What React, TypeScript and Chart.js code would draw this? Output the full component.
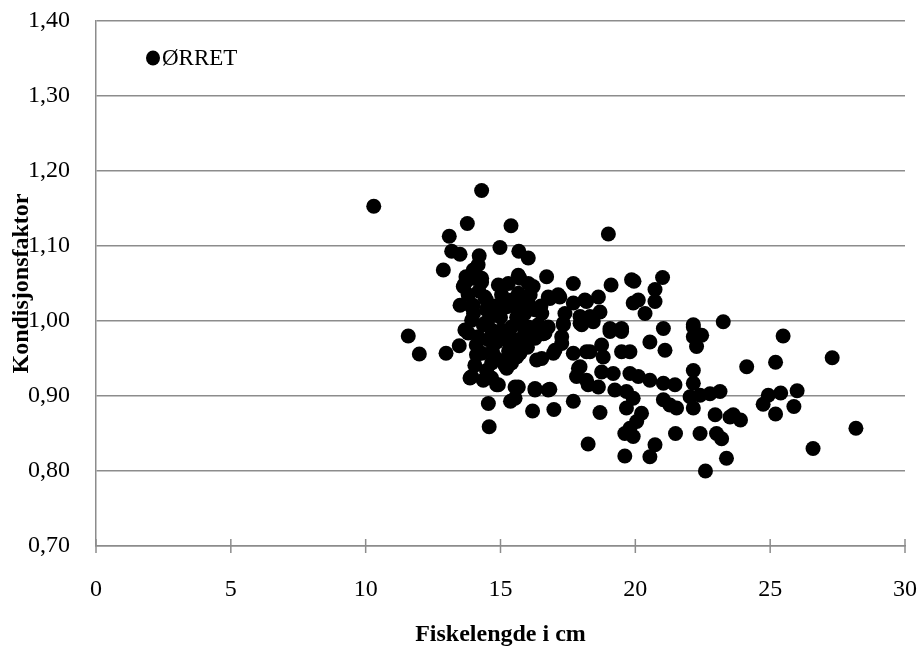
import React, { useEffect, useRef } from "react";
import { Chart, registerables } from "chart.js";

Chart.register(...registerables);

const seriesLabel = "ØRRET";
const xTitle = "Fiskelengde i cm";
const yTitle = "Kondisjonsfaktor";

const xMin = 0;
const xMax = 30;
const xStep = 5;
const yMin = 0.7;
const yMax = 1.4;
const yStep = 0.1;

const fishLength = [
  10.3, 14.3, 13.77, 15.39, 13.1, 14.98, 13.19, 13.5, 14.21, 15.68, 16.03, 12.88, 14.17, 13.99, 13.72, 13.68,
  13.99, 14.3, 14.3, 13.62, 14.92, 15.29, 15.66, 15.72, 16.03, 16.21, 16.71, 17.7, 19.1, 19.86, 19.95, 21.01,
  20.73, 20.73, 20.36, 19.92, 20.11, 19.0, 13.5, 13.93, 14.42, 14.55, 15.04, 15.23, 15.54, 15.66, 15.78, 16.03,
  16.77, 17.14, 17.7, 18.13, 18.63, 18.19, 16.28, 16.53, 17.39, 17.95, 18.69, 14.48, 13.93, 14.42, 14.67, 13.68,
  13.8, 15.04, 15.41, 15.78, 16.03, 16.4, 16.77, 15.91, 16.28, 17.33, 18.01, 18.44, 19.06, 19.49, 19.06, 19.49,
  21.04, 22.15, 22.15, 23.26, 22.15, 22.46, 22.27, 20.54, 21.1, 11.58, 11.99, 12.98, 13.47, 14.17, 14.55, 14.92,
  15.41, 15.84, 16.28, 16.65, 17.27, 17.27, 17.02, 16.96, 16.53, 16.34, 15.6, 15.6, 14.3, 14.11, 14.79, 15.16,
  15.41, 14.05, 13.93, 14.48, 14.67, 15.23, 14.36, 13.87, 14.92, 15.54, 15.54, 15.66, 16.28, 16.77, 16.83, 17.7,
  18.19, 18.32, 18.75, 18.81, 19.49, 19.8, 17.89, 17.95, 17.82, 18.19, 18.25, 18.63, 18.75, 19.18, 19.8, 20.11,
  20.54, 21.04, 21.47, 22.15, 22.15, 19.24, 19.67, 19.92, 21.04, 21.28, 21.53, 22.03, 22.4, 22.77, 23.14, 22.15,
  17.7, 15.37, 14.55, 16.19, 16.98, 14.58, 18.69, 19.67, 20.23, 20.05, 19.8, 19.61, 19.92, 21.49, 22.4, 22.96,
  23.51, 23.01, 23.2, 18.25, 19.61, 20.73, 20.54, 22.6, 23.38, 25.48, 24.13, 25.2, 27.3, 24.93, 24.74, 25.39,
  26.0, 25.88, 25.2, 23.63, 23.9, 26.59, 28.18, 16.34, 16.59, 17.33, 17.95, 14.86, 15.47, 15.72, 15.16, 14.67,
  14.86, 16.28, 18.07, 18.32, 16.83, 17.2, 15.97, 14.36, 13.99, 15.41, 14.48,
  14.0, 14.2, 14.6, 14.8, 15.0, 15.2, 15.9, 16.1, 13.8, 14.1, 15.3, 16.0, 14.7, 16.5, 15.6,
];

const conditionFactor = [
  1.153, 1.174, 1.13, 1.127, 1.113, 1.098, 1.093, 1.089, 1.087, 1.093, 1.084, 1.068, 1.075, 1.068, 1.059, 1.05,
  1.057, 1.057, 1.052, 1.046, 1.048, 1.05, 1.061, 1.057, 1.05, 1.046, 1.059, 1.05, 1.048, 1.055, 1.053, 1.058,
  1.042, 1.026, 1.01, 1.024, 1.028, 1.116, 1.021, 1.019, 1.032, 1.019, 1.035, 1.019, 1.019, 1.037, 1.032, 1.024,
  1.032, 1.035, 1.024, 1.028, 1.032, 1.026, 1.015, 1.01, 1.01, 1.006, 1.012, 1.015, 1.001, 0.997, 0.988, 0.988,
  0.984, 0.988, 0.992, 0.997, 0.992, 0.995, 0.992, 0.986, 0.986, 0.997, 0.995, 0.999, 0.99, 0.99, 0.986, 0.986,
  0.99, 0.995, 0.992, 0.999, 0.979, 0.981, 0.966, 0.972, 0.961, 0.98, 0.956, 0.957, 0.967, 0.979, 0.975, 0.979,
  0.977, 0.979, 0.977, 0.984, 0.979, 0.97, 0.961, 0.957, 0.95, 0.948, 0.966, 0.952, 0.957, 0.955, 0.952, 0.948,
  0.944, 0.941, 0.926, 0.934, 0.924, 0.937, 0.921, 0.924, 0.915, 0.912, 0.897, 0.912, 0.908, 0.908, 0.909, 0.957,
  0.959, 0.959, 0.968, 0.952, 0.959, 0.959, 0.937, 0.939, 0.926, 0.921, 0.915, 0.912, 0.932, 0.93, 0.93, 0.926,
  0.921, 0.917, 0.915, 0.934, 0.917, 0.908, 0.906, 0.897, 0.895, 0.888, 0.884, 0.899, 0.901, 0.903, 0.906, 0.884,
  0.893, 0.893, 0.89, 0.88, 0.882, 0.859, 0.878, 0.884, 0.877, 0.866, 0.857, 0.85, 0.846, 0.85, 0.85, 0.875,
  0.872, 0.85, 0.843, 0.836, 0.82, 0.835, 0.819, 0.8, 0.817, 0.98, 0.939, 0.945, 0.951, 0.901, 0.889, 0.904,
  0.907, 0.886, 0.876, 0.875, 0.868, 0.83, 0.857, 0.992, 0.983, 0.995, 0.997, 0.972, 0.967, 0.957, 0.941, 0.944,
  0.915, 0.91, 1.001, 1.006, 1.03, 1.032, 0.988, 0.995, 1.021, 1.028, 1.028,
  1.01, 1.04, 1.005, 1.02, 1.005, 0.975, 1.01, 1.035, 1.035, 0.968, 0.96, 0.965, 0.96, 1.02, 1.005,
];

const FONT = "'Liberation Serif', 'Times New Roman', serif";
const GRID = "#8c8c8c";

const crossTicks = {
  id: "crossTicks",
  afterDraw(chart: any) {
    const xs = chart.scales.x;
    const ctx = chart.ctx;
    const y0 = chart.chartArea.bottom;
    ctx.save();
    ctx.strokeStyle = GRID;
    ctx.lineWidth = 1.5;
    xs.ticks.forEach((t: any) => {
      const px = xs.getPixelForValue(t.value);
      ctx.beginPath();
      ctx.moveTo(px, y0 - 7);
      ctx.lineTo(px, y0 + 7);
      ctx.stroke();
    });
    ctx.restore();
  },
};

const innerLegend = {
  id: "innerLegend",
  afterDraw(chart: any) {
    const { ctx, chartArea } = chart;
    const ds = chart.data.datasets[0];
    const cx = chartArea.left + 57;
    const cy = chartArea.top + 37;
    ctx.save();
    ctx.fillStyle = "#000";
    ctx.beginPath();
    ctx.ellipse(cx, cy, 7, 7.5, 0, 0, Math.PI * 2);
    ctx.fill();
    ctx.font = `23px ${FONT}`;
    ctx.textBaseline = "middle";
    ctx.textAlign = "left";
    ctx.fillText(ds.label, cx + 9, cy + 1);
    ctx.restore();
  },
};

export default function App() {
  const ref = useRef<HTMLCanvasElement | null>(null);

  useEffect(() => {
    document.body.style.margin = "0";
    const canvas = ref.current;
    if (!canvas) return;
    const points = fishLength.map((x, i) => ({ x, y: conditionFactor[i] }));
    const chart = new Chart(canvas, {
      type: "scatter",
      data: {
        datasets: [
          {
            label: seriesLabel,
            data: points,
            backgroundColor: "#000",
            borderWidth: 0,
            pointRadius: 7.5,
            pointHoverRadius: 7.5,
          },
        ],
      },
      options: {
        responsive: false,
        animation: false,
        events: [],
        layout: { padding: { left: 0, right: 16, top: 21, bottom: 0 } },
        plugins: {
          legend: { display: false },
          tooltip: { enabled: false },
        },
        scales: {
          x: {
            type: "linear",
            min: xMin,
            max: xMax,
            afterFit: (s: any) => {
              s.height = 103;
              s.paddingLeft = 0;
              s.paddingRight = 0;
            },
            ticks: {
              stepSize: xStep,
              color: "#000",
              font: { family: FONT, size: 24 },
              padding: 29,
              maxRotation: 0,
            },
            grid: { display: false, drawTicks: false },
            border: { display: true, color: GRID, width: 1.5 },
            title: {
              display: true,
              text: xTitle,
              color: "#000",
              font: { family: FONT, size: 24, weight: "bold" },
              padding: { top: 0, bottom: 0 },
            },
          },
          y: {
            type: "linear",
            min: yMin,
            max: yMax,
            afterFit: (s: any) => {
              s.width = 96;
              s.paddingTop = 0;
              s.paddingBottom = 0;
            },
            ticks: {
              stepSize: yStep,
              color: "#000",
              font: { family: FONT, size: 24 },
              padding: 26,
              callback: (v: any) => Number(v).toFixed(2).replace(".", ","),
            },
            grid: { color: GRID, lineWidth: 1.5, drawTicks: false },
            border: { display: true, color: GRID, width: 1.5 },
            title: {
              display: true,
              text: yTitle,
              color: "#000",
              font: { family: FONT, size: 24, weight: "bold" },
              padding: { top: 7, bottom: 0 },
            },
          },
        },
      },
      plugins: [crossTicks, innerLegend],
    });
    return () => chart.destroy();
  }, []);

  return <canvas ref={ref} width={921} height={649} style={{ display: "block" }} />;
}
